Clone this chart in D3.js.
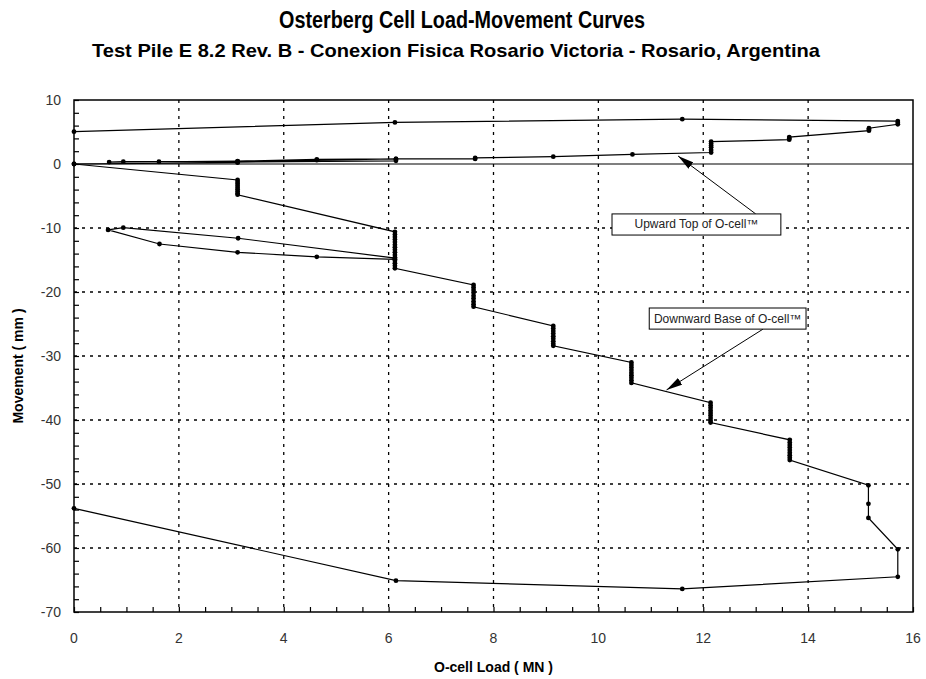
<!DOCTYPE html>
<html><head><meta charset="utf-8">
<script src="https://cdn.jsdelivr.net/npm/d3@7"></script>
<style>body{margin:0;background:#fff;}svg{display:block;font-family:Arial,"Liberation Sans",sans-serif;}</style>
</head><body><svg id="c" width="926" height="679"></svg>
<script>
// ---- data ----
const titleText = "Osterberg Cell Load-Movement Curves";
const subtitleText = "Test Pile E 8.2 Rev. B - Conexion Fisica Rosario Victoria - Rosario, Argentina";
const xLabel = "O-cell Load  ( MN )";
const yLabel = "Movement  ( mm )";
const xTicks = [0, 2, 4, 6, 8, 10, 12, 14, 16];
const yTicks = [10, 0, -10, -20, -30, -40, -50, -60, -70];

// Upward Top of O-cell
const upLoad = [0, 3.12, 3.12, 6.14, 6.14, 4.63, 3.12, 1.62, 0.67, 0.94, 3.12, 4.63, 6.14,
  7.65, 7.65, 9.14, 10.65, 12.15, 12.15, 12.15, 12.15, 12.15, 12.15, 13.64, 13.64, 13.64, 15.16, 15.16, 15.16, 15.71, 15.71, 15.71,
  11.6, 6.12, 0];
const upMove = [0, 0.2, 0.3, 0.5, 0.8, 0.73, 0.45, 0.35, 0.3, 0.36, 0.4, 0.6, 0.8,
  0.8, 0.95, 1.15, 1.5, 1.8, 2.2, 2.6, 2.9, 3.2, 3.5, 3.8, 4.0, 4.2, 5.2, 5.4, 5.6, 6.2, 6.45, 6.7,
  7.0, 6.5, 5.05];

// Downward Base of O-cell
const downLoad = [0, 3.12, 3.12, 3.12, 3.12, 3.12, 3.12, 3.12, 3.12, 3.12,
  6.12, 6.12, 6.12, 6.12, 6.12, 6.12, 6.12, 6.12, 6.12, 6.12, 6.12, 6.12,
  4.63, 3.12, 1.63, 0.65, 0.94, 3.13,
  6.12, 6.12, 6.12, 6.12, 6.12,
  7.62, 7.62, 7.62, 7.62, 7.62, 7.62, 7.62, 7.62, 7.62,
  9.14, 9.14, 9.14, 9.14, 9.14, 9.14, 9.14, 9.14, 9.14,
  10.63, 10.63, 10.63, 10.63, 10.63, 10.63, 10.63, 10.63, 10.63,
  12.14, 12.14, 12.14, 12.14, 12.14, 12.14, 12.14, 12.14, 12.14,
  13.65, 13.65, 13.65, 13.65, 13.65, 13.65, 13.65, 13.65, 13.65,
  15.15, 15.15, 15.15, 15.71, 15.71, 11.6, 6.14, 0];
const downMove = [0, -2.5, -2.8, -3.1, -3.4, -3.7, -4.0, -4.3, -4.6, -4.8,
  -10.6, -11.0, -11.4, -11.8, -12.2, -12.6, -13.0, -13.4, -13.8, -14.2, -14.6, -14.9,
  -14.5, -13.8, -12.5, -10.3, -9.95, -11.6,
  -14.7, -15.1, -15.5, -15.9, -16.3,
  -18.9, -19.3, -19.7, -20.1, -20.6, -21.0, -21.5, -21.9, -22.3,
  -25.3, -25.7, -26.1, -26.5, -26.9, -27.3, -27.7, -28.1, -28.4,
  -31.0, -31.4, -31.8, -32.2, -32.6, -33.0, -33.4, -33.8, -34.2,
  -37.3, -37.7, -38.1, -38.5, -38.9, -39.3, -39.7, -40.1, -40.4,
  -43.1, -43.5, -43.9, -44.3, -44.7, -45.1, -45.5, -45.9, -46.25,
  -50.2, -53.1, -55.3, -60.2, -64.5, -66.4, -65.1, -53.8];

// annotations (data coordinates)
const annoLabels = ["Upward Top of O-cell\u2122", "Downward Base of O-cell\u2122"];
const annoBoxX = [[10.26, 13.48], [10.97, 13.96]];
const annoBoxY = [[-7.8, -11.1], [-22.5, -25.8]];
const annoTail = [[13.0, -7.8], [13.14, -25.8]];
const annoTip = [[11.52, 1.25], [11.3, -35.3]];

// ---- drawing ----
const svg = d3.select("#c");
const W = 926, H = 679;
const m = {left: 74, right: 13, top: 100, bottom: 67};
const x = d3.scaleLinear().domain([0, 16]).range([m.left, W - m.right]);
const y = d3.scaleLinear().domain([-70, 10]).range([H - m.bottom, m.top]);

svg.append("rect").attr("width", W).attr("height", H).attr("fill", "#fff");

// titles
svg.append("text").attr("x", 462).attr("y", 28).attr("text-anchor", "middle")
  .attr("font-size", 23).attr("font-weight", "bold").attr("fill", "#000")
  .attr("textLength", 366).attr("lengthAdjust", "spacingAndGlyphs").text(titleText);
svg.append("text").attr("x", 456).attr("y", 57).attr("text-anchor", "middle")
  .attr("font-size", 18.5).attr("font-weight", "bold").attr("fill", "#000")
  .attr("textLength", 728).attr("lengthAdjust", "spacingAndGlyphs").text(subtitleText);

const g = svg.append("g");
// grid
const dash = "3,5";
g.selectAll(".vg").data(xTicks.filter(d => d > 0 && d < 16)).enter().append("line")
  .attr("x1", d => x(d)).attr("x2", d => x(d)).attr("y1", y(10)).attr("y2", y(-70))
  .attr("stroke", "#000").attr("stroke-width", 1.3).attr("stroke-dasharray", dash);
g.selectAll(".hg").data(yTicks.filter(d => d < 0 && d > -70)).enter().append("line")
  .attr("y1", d => y(d)).attr("y2", d => y(d)).attr("x1", x(0)).attr("x2", x(16))
  .attr("stroke", "#000").attr("stroke-width", 1.3).attr("stroke-dasharray", dash);
g.append("line").attr("x1", x(0)).attr("x2", x(16)).attr("y1", y(0)).attr("y2", y(0))
  .attr("stroke", "#000").attr("stroke-width", 1.2);

// axes
const xAxis = d3.axisBottom(x).tickValues(d3.range(0, 16.01, 0.5)).tickSize(-5).tickFormat("");
g.append("g").attr("transform", `translate(0,${y(-70)})`).call(xAxis)
  .call(a => a.select(".domain").remove())
  .call(a => a.selectAll("line").attr("stroke", "#000").attr("stroke-width", 1.2));
const yAxis = d3.axisLeft(y).tickValues(d3.range(-70, 10.01, 2)).tickSize(-5).tickFormat("");
g.append("g").attr("transform", `translate(${x(0)},0)`).call(yAxis)
  .call(a => a.select(".domain").remove())
  .call(a => a.selectAll("line").attr("stroke", "#000").attr("stroke-width", 1.2));

g.selectAll(".xl").data(xTicks).enter().append("text")
  .attr("x", d => x(d)).attr("y", y(-70) + 31).attr("text-anchor", "middle")
  .attr("font-size", 14).attr("fill", "#333").text(d => d);
g.selectAll(".yl").data(yTicks).enter().append("text")
  .attr("x", x(0) - 13).attr("y", d => y(d) + 5).attr("text-anchor", "end")
  .attr("font-size", 14).attr("fill", "#333").text(d => d);

svg.append("text").attr("x", x(8)).attr("y", 672).attr("text-anchor", "middle")
  .attr("font-size", 14).attr("font-weight", "bold").text(xLabel);
svg.append("text").attr("transform", `translate(23,${(y(10) + y(-70)) / 2 + 10}) rotate(-90)`)
  .attr("text-anchor", "middle").attr("font-size", 14).attr("font-weight", "bold").text(yLabel);

// frame
g.append("rect").attr("x", x(0)).attr("y", y(10)).attr("width", x(16) - x(0)).attr("height", y(-70) - y(10))
  .attr("fill", "none").attr("stroke", "#000").attr("stroke-width", 1.5);

// series
const line = d3.line().x(d => x(d[0])).y(d => y(d[1]));
const series = [d3.zip(upLoad, upMove), d3.zip(downLoad, downMove)];
series.forEach(s => {
  g.append("path").datum(s).attr("d", line).attr("fill", "none").attr("stroke", "#000").attr("stroke-width", 1.2);
  g.selectAll(null).data(s).enter().append("circle")
    .attr("cx", d => x(d[0])).attr("cy", d => y(d[1])).attr("r", 2.4).attr("fill", "#000");
});

// annotations
svg.append("defs").append("marker").attr("id", "ah").attr("viewBox", "0 0 16 8")
  .attr("refX", 16).attr("refY", 4).attr("markerWidth", 16).attr("markerHeight", 8)
  .attr("markerUnits", "userSpaceOnUse").attr("orient", "auto")
  .append("path").attr("d", "M0,0 L16,4 L0,8 Z").attr("fill", "#000");
annoLabels.forEach((t, i) => {
  g.append("line").attr("x1", x(annoTail[i][0])).attr("y1", y(annoTail[i][1]))
    .attr("x2", x(annoTip[i][0])).attr("y2", y(annoTip[i][1]))
    .attr("stroke", "#000").attr("stroke-width", 1).attr("marker-end", "url(#ah)");
  const bx = x(annoBoxX[i][0]), bw = x(annoBoxX[i][1]) - bx;
  const by = y(annoBoxY[i][0]), bh = y(annoBoxY[i][1]) - by;
  g.append("rect").attr("x", bx).attr("y", by).attr("width", bw).attr("height", bh)
    .attr("fill", "#fff").attr("stroke", "#000").attr("stroke-width", 1);
  g.append("text").attr("x", bx + bw / 2).attr("y", by + bh / 2 + 4).attr("text-anchor", "middle")
    .attr("font-size", 12).attr("fill", "#222").text(t);
});
</script></body></html>
